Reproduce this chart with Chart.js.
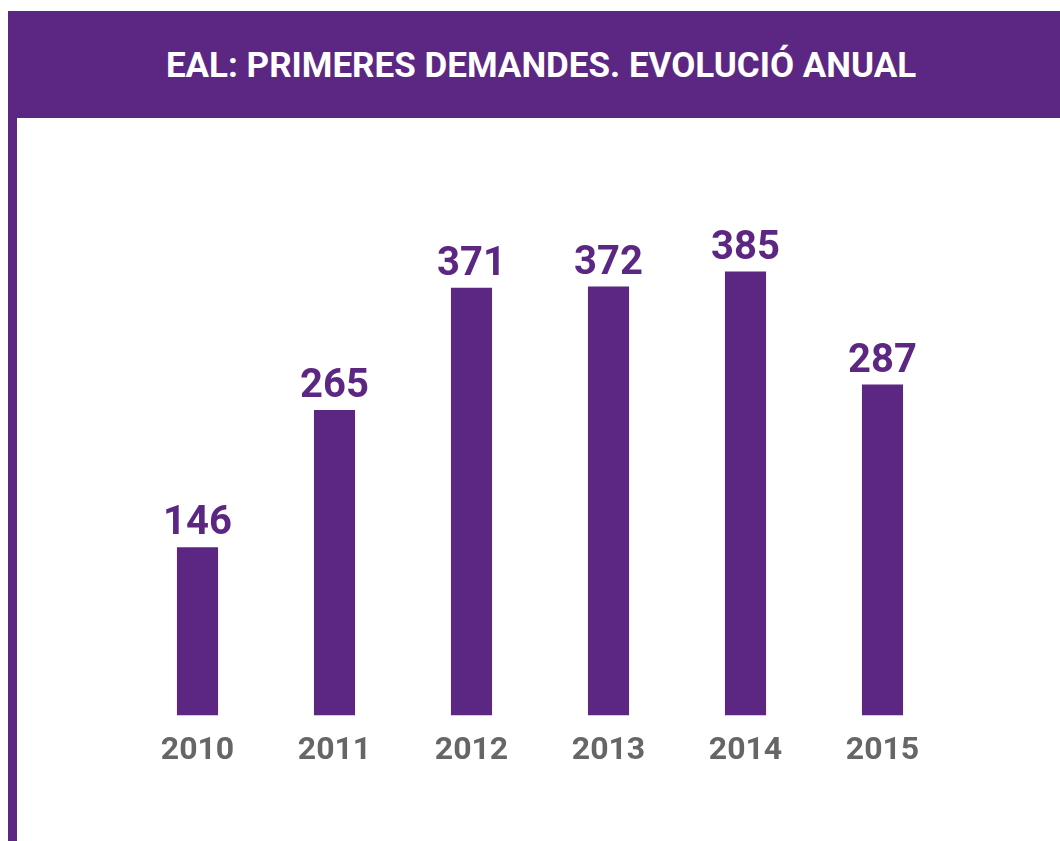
<!DOCTYPE html>
<html>
<head>
<meta charset="utf-8">
<script src="https://cdn.jsdelivr.net/npm/chart.js@4"></script>
<style>
  html, body { margin: 0; padding: 0; background: #fff; }
  body { width: 1060px; height: 841px; position: relative; overflow: hidden; }
  .header {
    position: absolute; left: 8px; top: 11px; width: 1052px; height: 107px;
    background: #5c2782; color: #fff;
    font-family: Roboto, 'Noto Sans', sans-serif; font-weight: bold; font-size: 35px;
    display: flex; align-items: center; justify-content: center;
    padding-left: 14px; padding-top: 2px; box-sizing: border-box;
  }
  .side { position: absolute; left: 8px; top: 118px; width: 9px; height: 723px; background: #5c2782; }
  #chart { position: absolute; left: 0; top: 0; }
</style>
</head>
<body>
<div class="header">EAL: PRIMERES DEMANDES. EVOLUCIÓ ANUAL</div>
<div class="side"></div>
<canvas id="chart" width="1060" height="841"></canvas>
<script>
const years = ['2010', '2011', '2012', '2013', '2014', '2015']
const demandes = [146, 265, 371, 372, 385, 287]

const purple = '#5c2782'

// numbers above each bar
const valueLabels = {
  id: 'valueLabels',
  afterDatasetsDraw(chart) {
    const ctx = chart.ctx
    const meta = chart.getDatasetMeta(0)
    ctx.save()
    ctx.font = 'bold 40px Roboto, sans-serif'
    ctx.fillStyle = purple
    ctx.textAlign = 'center'
    ctx.textBaseline = 'alphabetic'
    meta.data.forEach((bar, i) => {
      ctx.fillText(demandes[i], bar.x, bar.y - 13)
    })
    ctx.restore()
  },
}

new Chart(document.getElementById('chart'), {
  type: 'bar',
  data: {
    labels: years,
    datasets: [
      {
        data: demandes,
        backgroundColor: purple,
        barPercentage: 0.3,
        categoryPercentage: 1,
      },
    ],
  },
  options: {
    responsive: false,
    animation: false,
    layout: { padding: { left: 129, right: 109, top: 162, bottom: 55 } },
    plugins: { legend: { display: false }, tooltip: { enabled: false } },
    scales: {
      x: {
        grid: { display: false, drawTicks: false },
        border: { display: false },
        ticks: {
          color: '#666666',
          padding: 16,
          font: { family: 'Roboto, sans-serif', size: 32, weight: 'bold' },
        },
      },
      y: { display: false, min: 0, max: 480 },
    },
  },
  plugins: [valueLabels],
})
</script>
</body>
</html>
